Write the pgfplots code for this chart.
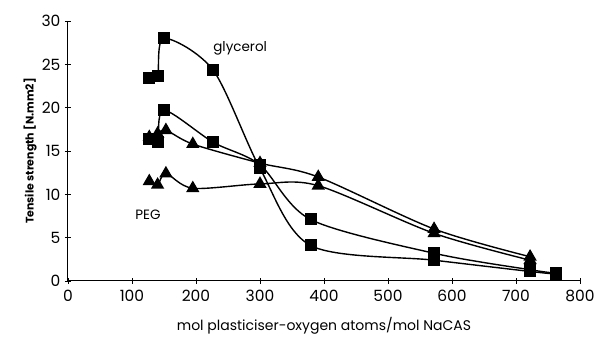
\documentclass[border=0pt]{standalone}
\usepackage{pgfplots}
\pgfplotsset{compat=1.18}
\usepackage{fontspec}
\setmainfont{Poppins}
\begin{document}
\begin{tikzpicture}
\path[use as bounding box] (-68pt,-64pt) rectangle (527pt,281pt);
\begin{axis}[
  at={(0,0)}, anchor=south west,
  scale only axis, width=512pt, height=260pt,
  xmin=0, xmax=800, ymin=0, ymax=30,
  axis x line=bottom, axis y line=left,
  axis line style={-, line width=1pt},
  xtick={0,100,...,800}, ytick={0,5,...,30},
  tick align=center, major tick length=6pt,
  tick style={black, line width=0.8pt},
  /pgf/number format/assume math mode=true,
  ticklabel style={font=\fontsize{15.5}{17}\selectfont},
  xticklabel style={yshift=-3pt},
  yticklabel style={xshift=-1pt},
  xlabel={mol plasticiser-oxygen atoms/mol NaCAS},
  ylabel={Tensile strength [N.mm2]},
  xlabel style={font=\fontsize{14}{16}\selectfont, yshift=-8pt},
  ylabel style={font=\bfseries\fontsize{11}{13}\selectfont, yshift=-2pt},
  every axis plot/.append style={black, line width=1.4pt, smooth, tension=0.5},
  clip=false,
]
% glycerol (top)
\addplot[mark=square*, mark size=5.3pt] coordinates {
(127,23.4) (140,23.6) (150,28.0) (227,24.3) (300,13.0) (379,4.1) (572,2.4) (722,1.1) (762,0.8)};
% glycerol (middle)
\addplot[mark=square*, mark size=5.3pt] coordinates {
(127,16.4) (140,16.0) (150,19.7) (227,16.0) (300,13.4) (379,7.1) (572,3.2) (722,1.3) (762,0.9)};
% PEG (upper)
\addplot[mark=triangle*, mark size=6.3pt] coordinates {
(127,16.6) (140,17.0) (153,17.4) (195,15.8) (300,13.6) (391,12.0) (572,6.0) (722,2.8)};
% PEG (lower)
\addplot[mark=triangle*, mark size=6.3pt] coordinates {
(127,11.5) (140,11.1) (153,12.4) (195,10.7) (300,11.2) (391,11.0) (572,5.5) (722,2.4)};
\node[font=\fontsize{13.5}{15}\selectfont] at (axis cs:269,26.9) {glycerol};
\node[font=\fontsize{13.5}{15}\selectfont] at (axis cs:125,7.6) {PEG};
\end{axis}
\end{tikzpicture}
\end{document}
